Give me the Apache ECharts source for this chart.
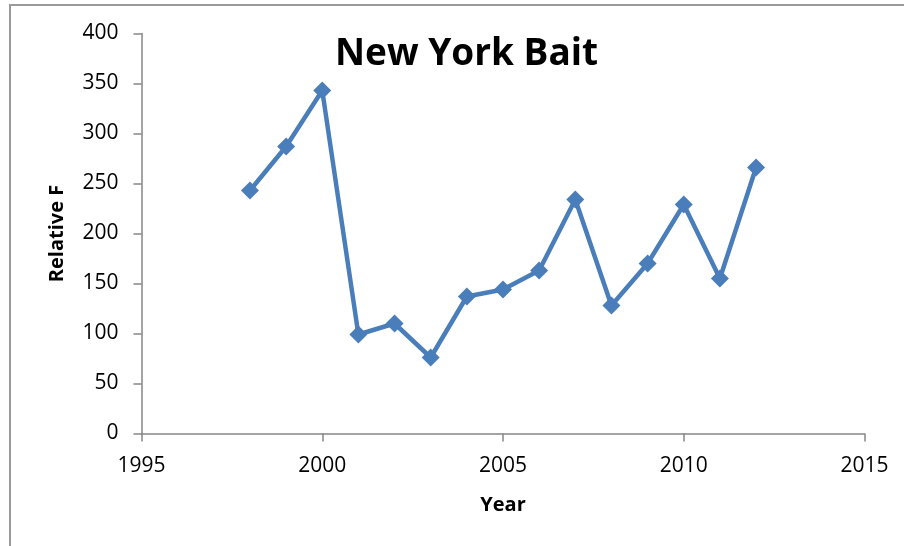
<!DOCTYPE html>
<html>
<head>
<meta charset="utf-8">
<script src="https://cdn.jsdelivr.net/npm/echarts@6/dist/echarts.min.js"></script>
<style>
  html, body { margin: 0; padding: 0; background: #fff; }
  #chart { width: 904px; height: 546px; }
</style>
</head>
<body>
<div id="chart"></div>
<script>
// Relative F for New York bait, by year
const years = [1998, 1999, 2000, 2001, 2002, 2003, 2004, 2005, 2006, 2007, 2008, 2009, 2010, 2011, 2012];
const relativeF = [243, 287, 343, 99, 110, 76, 137, 144, 163, 234, 128, 170, 229, 155, 266];

const xTicks = [1995, 2000, 2005, 2010, 2015];
const yTicks = [0, 50, 100, 150, 200, 250, 300, 350, 400];

const axisGray = '#868686';
const font = '"Open Sans", "Noto Sans", sans-serif';

const chart = echarts.init(document.getElementById('chart'), null, { renderer: 'canvas' });

chart.setOption({
  animation: false,
  backgroundColor: '#ffffff',
  title: {
    text: 'New York Bait',
    left: 330,
    top: 31,
    textStyle: { fontFamily: font, fontWeight: 'bold', fontSize: 37, color: '#000' }
  },
  graphic: [{
    type: 'rect',
    shape: { x: 10, y: 5, width: 1000, height: 1000 },
    style: { fill: 'none', stroke: '#9a9a9a', lineWidth: 2 },
    silent: true
  }],
  grid: { left: 141.5, right: 39.5, top: 33.5, bottom: 112.5 },
  xAxis: {
    type: 'value',
    min: xTicks[0],
    max: xTicks[xTicks.length - 1],
    interval: 5,
    name: 'Year',
    nameLocation: 'middle',
    nameGap: 62,
    nameTextStyle: { fontFamily: font, fontWeight: 'bold', fontSize: 20, color: '#000' },
    axisLine: { show: true, lineStyle: { color: axisGray, width: 1.5 } },
    axisTick: { show: true, length: 8, lineStyle: { color: axisGray, width: 1.5 } },
    axisLabel: { fontFamily: font, fontSize: 21, color: '#000', margin: 22, formatter: v => String(v) },
    splitLine: { show: false }
  },
  yAxis: {
    type: 'value',
    min: yTicks[0],
    max: yTicks[yTicks.length - 1],
    interval: 50,
    name: 'Relative F',
    nameLocation: 'middle',
    nameGap: 74,
    nameRotate: 90,
    nameTextStyle: { fontFamily: font, fontWeight: 'bold', fontSize: 20, color: '#000' },
    axisLine: { show: true, lineStyle: { color: axisGray, width: 1.5 } },
    axisTick: { show: true, length: 8, lineStyle: { color: axisGray, width: 1.5 } },
    axisLabel: { fontFamily: font, fontSize: 21, color: '#000', margin: 23 },
    splitLine: { show: false }
  },
  series: [{
    type: 'line',
    data: years.map((y, i) => [y, relativeF[i]]),
    symbol: 'diamond',
    symbolSize: 18,
    lineStyle: { color: '#4a7ebb', width: 4.5 },
    itemStyle: { color: '#4a7ebb' }
  }]
});
</script>
</body>
</html>
